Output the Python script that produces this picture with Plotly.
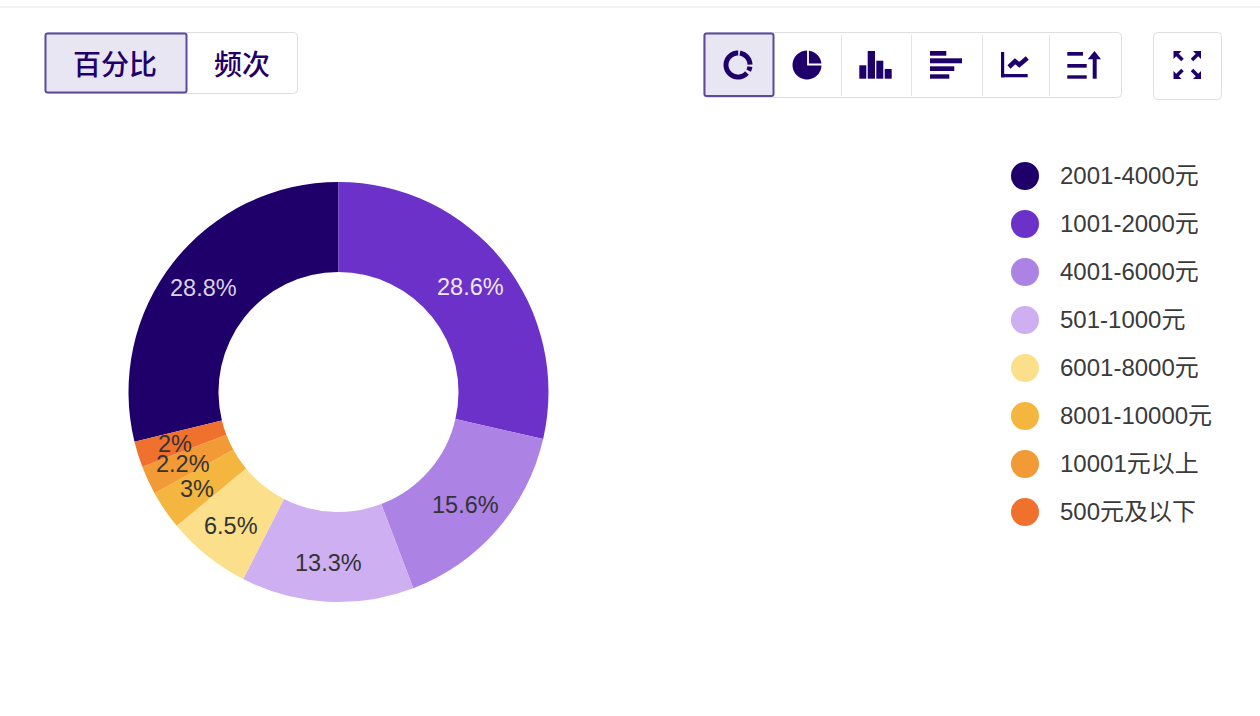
import numpy as np
import plotly.graph_objects as go

categories = ["2001-4000元", "1001-2000元", "4001-6000元", "501-1000元",
              "6001-8000元", "8001-10000元", "10001元以上", "500元及以下"]
percents = [28.8, 28.6, 15.6, 13.3, 6.5, 3, 2.2, 2]
colors = ["#1F006B", "#6B31C9", "#AC82E4", "#CDAFF2", "#FBDF8A", "#F5B63F", "#F29A36", "#F0702E"]
label_colors = ["#D9D2E6", "#EFE8F8", "#333333", "#333333", "#333333", "#333333", "#333333", "#333333"]
mode_labels = ["百分比", "频次"]

W, H = 1260, 716
CX, CY, R, R_IN, R_LABEL = 338.5, 392, 210, 120, 170
FONT = "Liberation Sans, Helvetica, Arial, Noto Sans CJK SC"
INK = "#1F006B"
BORDER = "#DEDDE2"
ACTIVE_LINE = "#5D4A9E"
ACTIVE_FILL = "#E8E6F2"

shapes, annotations = [], []


def rrect(x0, y0, x1, y1, r=4):
    return (f"M{x0+r},{y0} L{x1-r},{y0} Q{x1},{y0} {x1},{y0+r} L{x1},{y1-r} Q{x1},{y1} {x1-r},{y1} "
            f"L{x0+r},{y1} Q{x0},{y1} {x0},{y1-r} L{x0},{y0+r} Q{x0},{y0} {x0+r},{y0} Z")


def path(d, fill=None, line=None, width=0):
    s = dict(type="path", xref="x", yref="y", path=d, layer="above",
             line=dict(color=line or "rgba(0,0,0,0)", width=width))
    if fill:
        s["fillcolor"] = fill
    shapes.append(s)


def box(x0, y0, x1, y1, fill=INK):
    path(f"M{x0},{y0} L{x1},{y0} L{x1},{y1} L{x0},{y1} Z", fill=fill)


def poly(pts, fill=None, line=None, width=0, close=True):
    d = "M" + " L".join(f"{x:.2f},{y:.2f}" for x, y in pts) + (" Z" if close else "")
    path(d, fill=fill, line=line, width=width)


def ring(cx, cy, r0, r1, a0, a1):
    a = np.radians(np.linspace(a0, a1, 40))
    outer = [(cx + r1 * np.sin(t), cy - r1 * np.cos(t)) for t in a]
    inner = [(cx + r0 * np.sin(t), cy - r0 * np.cos(t)) for t in a[::-1]]
    poly(outer + inner, fill=INK)


# top rule
path("M0,7 L1260,7", line="#EFEFF1", width=1.5)

# left toggle
path(rrect(45, 32.5, 297.5, 93.5), fill="#FFFFFF", line=BORDER, width=1)
path(rrect(45.5, 33.5, 186.5, 92.5, 2), fill=ACTIVE_FILL, line=ACTIVE_LINE, width=2)
for text, x in zip(mode_labels, [114.5, 242]):
    annotations.append(dict(x=x, y=63, text=text, showarrow=False, xref="x", yref="y",
                            font=dict(family="Noto Sans CJK SC", size=28, color=INK, weight=500)))

# right toolbar
path(rrect(703.5, 32.5, 1121.5, 97.5), fill="#FFFFFF", line=BORDER, width=1)
path(rrect(704.5, 33.5, 773.5, 96, 2), fill=ACTIVE_FILL, line=ACTIVE_LINE, width=2)
for x in [841.5, 911.5, 982.5, 1049.5]:
    path(f"M{x},35 L{x},96", line="#E4E4E8", width=1)
path(rrect(1153.5, 32.5, 1221.5, 99.5), fill="#FFFFFF", line=BORDER, width=1)

# donut icon
for a0, a1 in [(9, 88), (98, 118), (132, 366 - 5)]:
    ring(738, 65, 9.5, 14.5, a0, a1)

# pie icon
ring(807, 65, 0, 14.5, 0, 360)
poly([(808, 50), (808, 64.5), (823, 64.5)], line="#FFFFFF", width=1.8, close=False)

# column icon
for x0, x1, y0 in [(859.3, 866.3, 65.3), (867.7, 875, 51), (876.3, 883.3, 60.7), (884.7, 891.7, 69)]:
    box(x0, y0, x1, 78.7)

# bar icon
for y0, y1, x1 in [(51, 55.7, 946.3), (58.3, 63.3, 962), (66.3, 71, 954.3), (74.3, 78.7, 949.3)]:
    box(930, y0, x1, y1)

# line icon
box(1001, 52, 1004.2, 77.3)
box(1001, 74, 1027.7, 77.3)
poly([(1009, 67), (1015, 61.3), (1019.3, 64.7), (1027.3, 58)], line=INK, width=4.6, close=False)

# sort icon
box(1067.3, 52, 1083, 55.7)
box(1067.3, 64, 1086.7, 67.7)
box(1067.3, 75.3, 1086.7, 78.7)
box(1092.7, 58, 1096.7, 78.7)
poly([(1094.5, 51), (1101, 59.3), (1087.7, 59.3)], fill=INK)

# expand icon
for cx, cy, sx, sy in [(1173.5, 51, 1, 1), (1201, 51, -1, 1), (1173.5, 79, 1, -1), (1201, 79, -1, -1)]:
    poly([(cx, cy), (cx + sx * 8, cy), (cx, cy + sy * 8)], fill=INK)
    poly([(cx + sx * 2, cy + sy * 2), (cx + sx * 9, cy + sy * 9)], line=INK, width=3.6, close=False)

# slice labels: placed from the data
fractions = np.array(percents) / sum(percents)
start = -fractions[0] * 360
mids = start + (np.cumsum(fractions) - fractions / 2) * 360
for pct, mid, col in zip(percents, mids, label_colors):
    t = np.radians(mid)
    annotations.append(dict(x=CX - 1 + R_LABEL * np.sin(t), y=CY + 1 - R_LABEL * np.cos(t), text=f"{pct:g}%",
                            showarrow=False, xref="x", yref="y", font=dict(family=FONT, size=23.5, color=col)))

# legend
leg_x, leg_text_x, leg_y0, leg_step = 1025, 1057.5, 175.5, 48
leg_y = [leg_y0 + i * leg_step for i in range(len(categories))]
for name, y in zip(categories, leg_y):
    annotations.append(dict(x=leg_text_x, y=y, text=name, showarrow=False, xanchor="left", xref="x", yref="y",
                            font=dict(family=FONT, size=24, color="#3A3A3A")))

fig = go.Figure()
fig.add_trace(go.Pie(
    labels=categories, values=percents, sort=False, direction="clockwise", rotation=start,
    hole=R_IN / R, textinfo="none", hoverinfo="skip", showlegend=False,
    marker=dict(colors=colors, line=dict(width=0)),
    domain=dict(x=[(CX - R) / W, (CX + R) / W], y=[1 - (CY + R) / H, 1 - (CY - R) / H]),
))
fig.add_trace(go.Scatter(
    x=[leg_x] * len(categories), y=[y + 0.5 for y in leg_y], mode="markers", showlegend=False, hoverinfo="skip",
    marker=dict(size=28, color=colors, line=dict(width=0)),
))
fig.update_layout(
    width=W, height=H, margin=dict(l=0, r=0, t=0, b=0, pad=0),
    paper_bgcolor="#FFFFFF", plot_bgcolor="#FFFFFF", font=dict(family=FONT),
    xaxis=dict(range=[0, W], visible=False, fixedrange=True),
    yaxis=dict(range=[H, 0], visible=False, fixedrange=True),
    shapes=shapes, annotations=annotations,
)
fig.write_html("out.html", config=dict(displayModeBar=False),
               post_script="document.body.style.margin='0';document.body.style.overflow='hidden';")
